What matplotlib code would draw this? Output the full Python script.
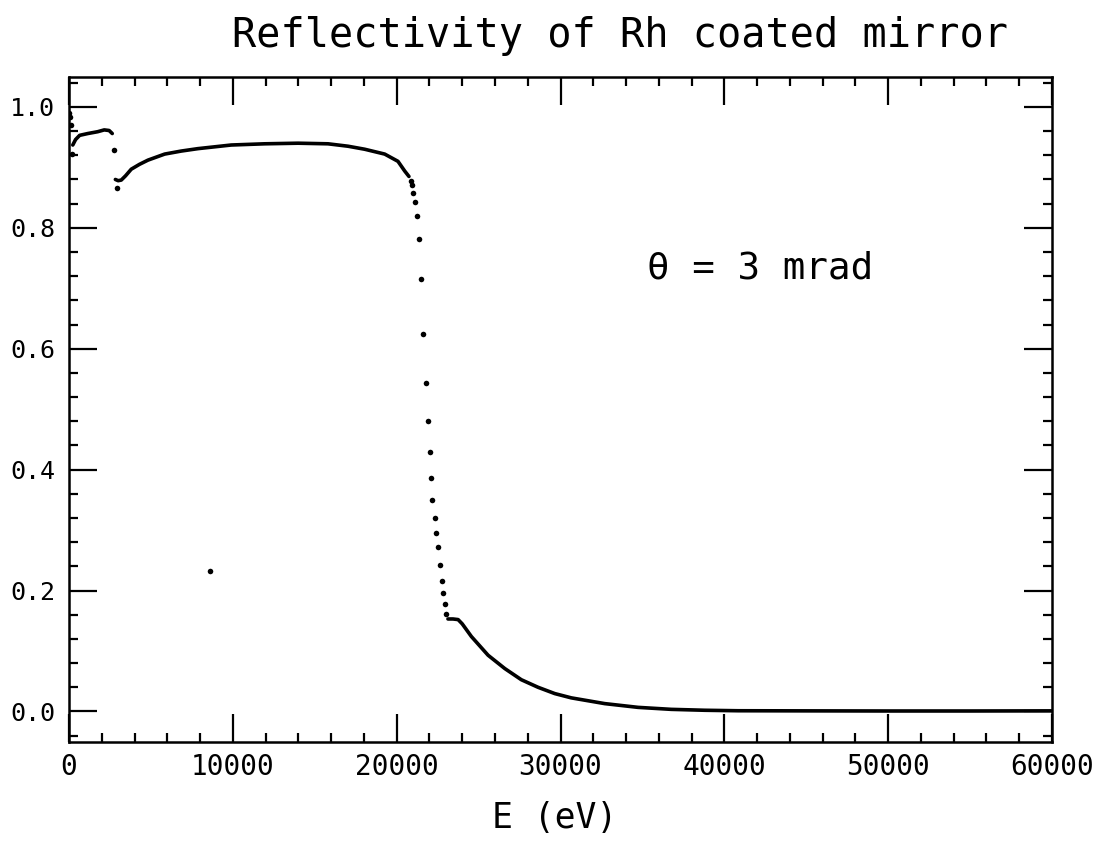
import matplotlib
matplotlib.use("Agg")
import matplotlib.pyplot as plt
from matplotlib.ticker import MultipleLocator, FixedLocator

plt.rcParams['font.family'] = ['DejaVu Sans Mono', 'DejaVu Sans']

# ---- data (E in eV, reflectivity) ----
low_E = [20, 60, 110, 160]
low_R = [0.990, 0.983, 0.970, 0.922]

seg1_E = [230, 400, 650, 1150, 1750, 2150, 2450, 2640]
seg1_R = [0.937, 0.946, 0.953, 0.956, 0.959, 0.962, 0.961, 0.956]

iso_E = [2750, 2930, 8600]
iso_R = [0.929, 0.866, 0.232]

seg2_E = [2830, 3000, 3190, 3450, 3800, 4300, 4820, 5840, 6850, 7870, 9900,
          11940, 13980, 15810, 17030, 18050, 19270, 20080, 20490, 20750]
seg2_R = [0.880, 0.878, 0.879, 0.886, 0.897, 0.905, 0.912, 0.922, 0.927, 0.931,
          0.937, 0.939, 0.940, 0.939, 0.935, 0.930, 0.922, 0.910, 0.894, 0.885]

edge_E = [20860, 20920, 21000, 21140, 21260, 21350, 21510, 21630, 21770, 21930,
          22020, 22080, 22160, 22340, 22400, 22510, 22650, 22770, 22830, 22970, 23030]
edge_R = [0.877, 0.871, 0.857, 0.842, 0.819, 0.782, 0.716, 0.625, 0.543, 0.480,
          0.430, 0.386, 0.349, 0.320, 0.295, 0.272, 0.243, 0.2155, 0.196, 0.178, 0.161]

tail_E = [23130, 23440, 23750, 24000, 24560, 25580, 26600, 27610, 28630, 29650,
          30660, 32700, 34730, 36760, 38800, 40840, 45000, 50000, 55000, 60000]
tail_R = [0.153, 0.153, 0.152, 0.145, 0.124, 0.093, 0.071, 0.0525, 0.040, 0.0296,
          0.0225, 0.013, 0.0068, 0.0035, 0.002, 0.0012, 0.001, 0.0008, 0.0008, 0.001]

x_ticks = [0, 10000, 20000, 30000, 40000, 50000, 60000]
x_labels = ["0", "10000", "20000", "30000", "40000", "50000", "60000"]
y_ticks = [0.0, 0.2, 0.4, 0.6, 0.8, 1.0]
y_labels = ["0.0", "0.2", "0.4", "0.6", "0.8", "1.0"]

title = "Reflectivity of Rh coated mirror"
xlabel = "E (eV)"
note = "\u03b8 = 3 mrad"

# ---- figure ----
W, H = 1106, 841
fig = plt.figure(figsize=(W / 100, H / 100), dpi=100)
ax = fig.add_axes([69 / W, 1 - 741.7 / H, 983 / W, 665 / H])

lw = 2.6
ms = 4.0
ax.plot(low_E, low_R, 'o', color='black', ms=ms, mec='none')
ax.plot(seg1_E, seg1_R, '-', color='black', lw=lw, solid_capstyle='round')
ax.plot(iso_E, iso_R, 'o', color='black', ms=ms, mec='none')
ax.plot(seg2_E, seg2_R, '-', color='black', lw=lw, solid_capstyle='round')
ax.plot(edge_E, edge_R, 'o', color='black', ms=ms, mec='none')
ax.plot(tail_E, tail_R, '-', color='black', lw=lw, solid_capstyle='round')

ax.set_xlim(0, 60000)
ax.set_ylim(-0.05, 1.05)

ax.xaxis.set_major_locator(FixedLocator(x_ticks))
ax.set_xticklabels(x_labels)
ax.xaxis.set_minor_locator(MultipleLocator(2000))
ax.yaxis.set_major_locator(FixedLocator(y_ticks))
ax.set_yticklabels(y_labels)
ax.yaxis.set_minor_locator(MultipleLocator(0.04))

ax.tick_params(which='both', direction='in', top=True, right=True,
               color='black', width=1.6)
ax.tick_params(which='major', length=20)
ax.tick_params(which='minor', length=6.5)
ax.tick_params(axis='x', which='major', labelsize=20, pad=8)
ax.tick_params(axis='y', which='major', labelsize=18, pad=10)

for s in ax.spines.values():
    s.set_linewidth(1.8)
    s.set_color('black')

fig.text(620 / W, 1 - 36 / H, title, ha='center', va='center', fontsize=29)
fig.text(555 / W, 1 - 818 / H, xlabel, ha='center', va='center', fontsize=25)
ax.text(35300, 0.717, note, ha='left', va='baseline', fontsize=27)

fig.savefig("out.png", dpi=100, facecolor='white')
